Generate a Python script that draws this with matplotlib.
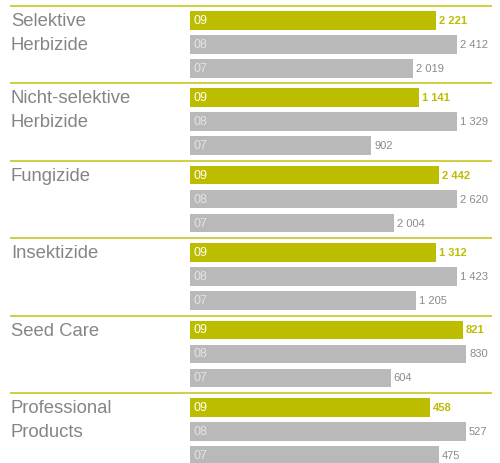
import numpy as np
import matplotlib.pyplot as plt

# data
categories = [["Selektive", "Herbizide"],
              ["Nicht-selektive", "Herbizide"],
              ["Fungizide"],
              ["Insektizide"],
              ["Seed Care"],
              ["Professional", "Products"]]
years = ["09", "08", "07"]
sales_09 = [2221, 1141, 2442, 1312, 821, 458]
sales_08 = [2412, 1329, 2620, 1423, 830, 527]
sales_07 = [2019, 902, 2004, 1205, 604, 475]

# styling
olive = "#bdbd00"
grey_bar = "#b9b9b9"
rule = "#cfcf40"
text_grey = "#858585"
plt.rcParams['font.family'] = ['Liberation Sans', 'DejaVu Sans']


def fmt(v):
    return f"{v:,}".replace(",", " ")


fig = plt.figure(figsize=(5.0, 4.63), dpi=100)
ax = fig.add_axes([0, 0, 1, 1])
ax.set_xlim(0, 500)
ax.set_ylim(463, 0)
ax.axis("off")

group_top = 6
group_step = 77.4
bar_x0 = 190
full_width = [267, 267, 267, 267, 276, 276]
bar_h = 18.5

for g, label in enumerate(categories):
    top = group_top + g * group_step
    ax.plot([10, 492], [top, top], color=rule, lw=1.4, solid_capstyle="butt")
    for j, line in enumerate(label):
        ax.text(11, top + 20 + j * 24, line, fontsize=13.3, color=text_grey,
                va="baseline", ha="left")

    vals = [sales_09[g], sales_08[g], sales_07[g]]
    scale = full_width[g] / max(vals)
    for k, (yr, v) in enumerate(zip(years, vals)):
        yc = top + 5 + bar_h / 2 + k * 24
        w = v * scale
        main = k == 0
        ax.barh(yc, w, left=bar_x0, height=bar_h,
                color=olive if main else grey_bar, linewidth=0)
        ax.text(bar_x0 + 3, yc + 0.5, yr, fontsize=9,
                color="white" if main else "#e3e3e3",
                va="center", ha="left")
        ax.text(bar_x0 + w + 3, yc + 0.5, fmt(v), fontsize=8,
                color=olive if main else "#8a8a8a",
                fontweight="bold" if main else "normal",
                va="center", ha="left")

fig.savefig("out.png", dpi=100)
